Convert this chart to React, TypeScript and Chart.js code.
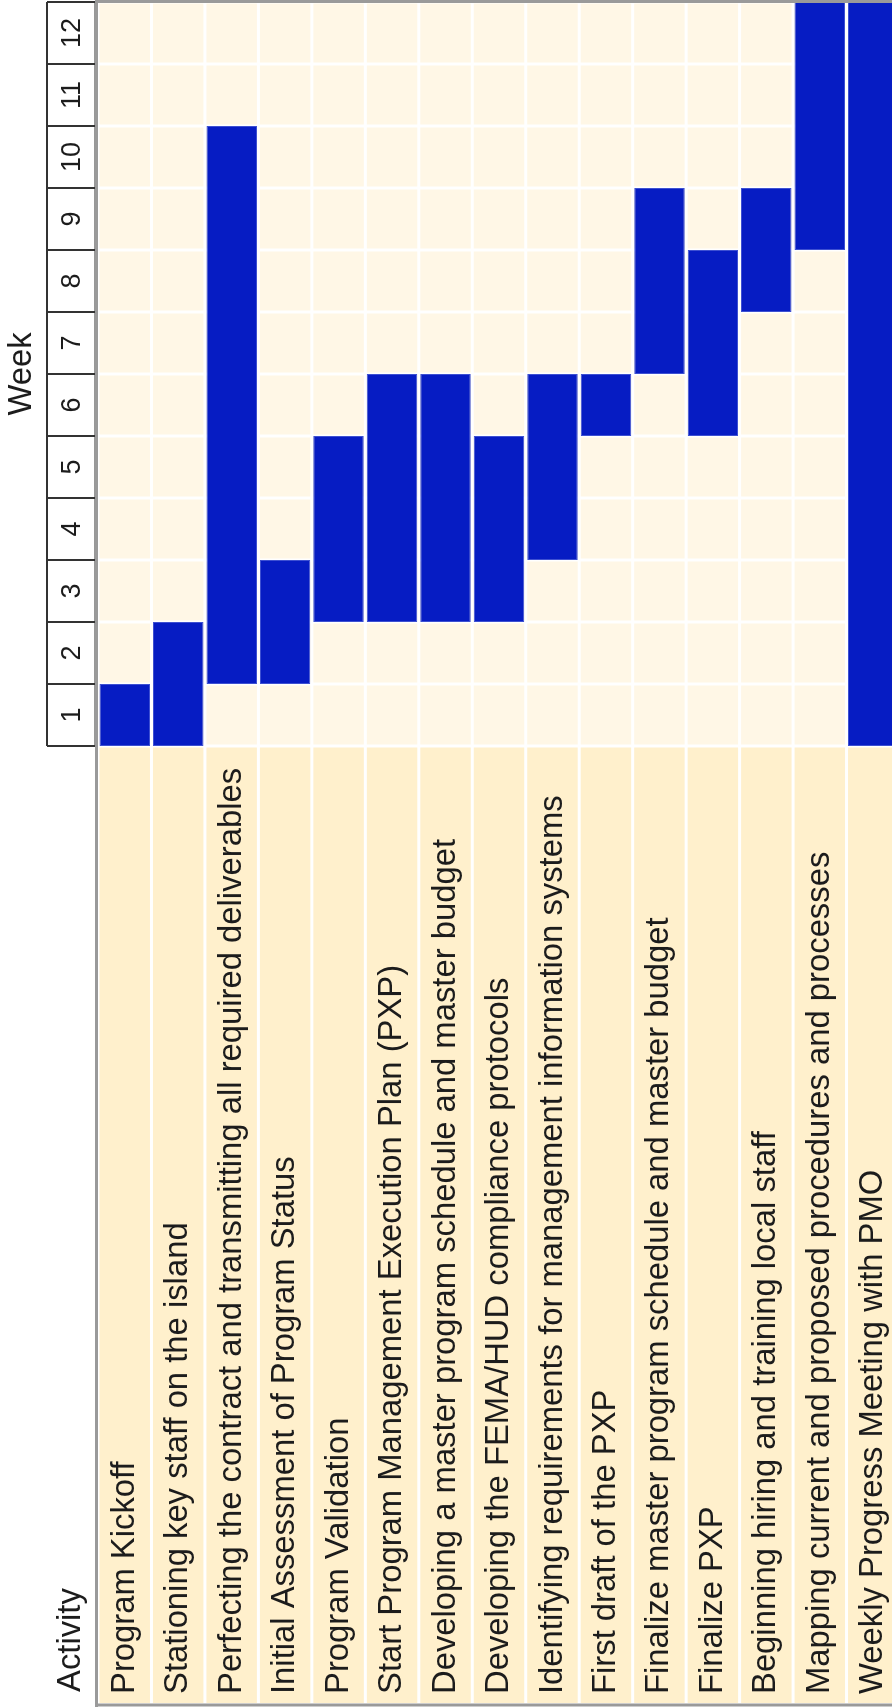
import React, { useEffect, useRef } from "react";
import { Chart, registerables } from "chart.js";

Chart.register(...registerables);

// ---------- data ----------
const activities: string[] = [
  "Program Kickoff",
  "Stationing key staff on the island",
  "Perfecting the contract and transmitting all required deliverables",
  "Initial Assessment of Program Status",
  "Program Validation",
  "Start Program Management Execution Plan (PXP)",
  "Developing a master program schedule and master budget",
  "Developing the FEMA/HUD compliance protocols",
  "Identifying requirements for management information systems",
  "First draft of the PXP",
  "Finalize master program schedule and master budget",
  "Finalize PXP",
  "Beginning hiring and training local staff",
  "Mapping current and proposed procedures and processes",
  "Weekly Progress Meeting with PMO",
];
const startWeeks: number[] = [0, 0, 1, 1, 2, 2, 2, 2, 3, 5, 6, 5, 7, 8, 0];
const endWeeks: number[] = [1, 2, 10, 3, 5, 6, 6, 5, 6, 6, 9, 8, 9, 12, 12];
const weekLabels: string[] = ["1", "2", "3", "4", "5", "6", "7", "8", "9", "10", "11", "12"];
const weekTitle = "Week";
const activityTitle = "Activity";

// ---------- look ----------
const W = 1707;
const H = 900;
const FONT = "'Liberation Sans', Arial, Helvetica, sans-serif";
const TEXT = "#1c1c1c";
const BAR = "#061cc3";
const BAR_EDGE = "#3d50d2";
const CELL = "#fff7e6";
const LABEL_CELL = "#fff0cc";
const FRAME = "#9a9a9a";
const GAP = 3;
const LABEL_SIZE = 32.8;

const zeroPadding = (s: any) => {
  s.paddingTop = 0;
  s.paddingBottom = 0;
  s.paddingLeft = 0;
  s.paddingRight = 0;
};

const backgroundPlugin = {
  id: "ganttBackground",
  beforeDraw(chart: any) {
    const { ctx, chartArea } = chart;
    const xs = chart.scales.x;
    const ys = chart.scales.y;
    ctx.save();
    ctx.fillStyle = "#ffffff";
    ctx.fillRect(0, 0, chart.width, chart.height);

    const n = activities.length;
    const rowH = (chartArea.bottom - chartArea.top) / n;
    for (let i = 0; i < n; i++) {
      const cy = ys.getPixelForValue(i);
      const top = cy - rowH / 2 + GAP / 2;
      const h = rowH - GAP;
      // label cell
      ctx.fillStyle = LABEL_CELL;
      ctx.fillRect(4, top, chartArea.left - GAP / 2 - 4, h);
      // week cells
      ctx.fillStyle = CELL;
      for (let k = 0; k < weekLabels.length; k++) {
        const x0 = xs.getPixelForValue(k);
        const x1 = xs.getPixelForValue(k + 1);
        ctx.fillRect(x0 + GAP / 2, top, x1 - x0 - GAP, h);
      }
    }

    // week tick box
    const bx0 = xs.getPixelForValue(0);
    const bx1 = xs.getPixelForValue(weekLabels.length);
    const by0 = 47;
    const by1 = 95.5;
    ctx.fillStyle = "#ffffff";
    ctx.fillRect(bx0, by0, bx1 - bx0, by1 - by0);
    ctx.strokeStyle = "#333333";
    ctx.lineWidth = 2;
    ctx.beginPath();
    ctx.moveTo(bx0, by0);
    ctx.lineTo(bx1, by0);
    ctx.moveTo(bx0, by1);
    ctx.lineTo(bx1, by1);
    for (let k = 0; k <= weekLabels.length; k++) {
      const x = Math.round(xs.getPixelForValue(k));
      ctx.moveTo(x, by0);
      ctx.lineTo(x, by1);
    }
    ctx.stroke();

    // Activity header
    ctx.fillStyle = TEXT;
    ctx.font = `${LABEL_SIZE}px ${FONT}`;
    ctx.textAlign = "left";
    ctx.textBaseline = "middle";
    ctx.fillText(activityTitle, 15, 71);
    ctx.restore();
  },
  afterDraw(chart: any) {
    const { ctx, chartArea } = chart;
    ctx.save();
    ctx.strokeStyle = FRAME;
    ctx.lineWidth = 3;
    ctx.beginPath();
    ctx.moveTo(2, chartArea.top - 1);
    ctx.lineTo(2, chart.height);
    ctx.moveTo(0, chartArea.top - 1.5);
    ctx.lineTo(chart.width, chartArea.top - 1.5);
    ctx.moveTo(chart.width - 1.5, chartArea.top - 1);
    ctx.lineTo(chart.width - 1.5, chart.height);
    ctx.stroke();
    ctx.restore();
  },
};

export default function App() {
  const ref = useRef<HTMLCanvasElement | null>(null);

  useEffect(() => {
    const canvas = ref.current;
    if (!canvas) return;
    Chart.defaults.font.family = FONT;
    const chart = new Chart(canvas, {
      type: "bar",
      data: {
        labels: activities,
        datasets: [
          {
            data: activities.map((_, i) => [startWeeks[i], endWeeks[i]]) as any,
            backgroundColor: BAR,
            borderColor: BAR_EDGE,
            borderWidth: 1,
            borderSkipped: false,
            barPercentage: 1,
            categoryPercentage: 0.944,
          },
        ],
      },
      options: {
        indexAxis: "y",
        animation: false,
        responsive: false,
        maintainAspectRatio: false,
        devicePixelRatio: 1,
        layout: { autoPadding: false, padding: { left: 13, right: 2, top: 0, bottom: 0 } },
        plugins: {
          legend: { display: false },
          tooltip: { enabled: false },
          title: { display: false },
        },
        scales: {
          x: {
            type: "linear",
            min: 0,
            max: 12,
            display: false,
            afterFit: zeroPadding,
          },
          x2: {
            type: "category",
            labels: weekLabels,
            position: "top",
            offset: true,
            grid: { display: false, drawTicks: false },
            border: { display: false },
            ticks: {
              autoSkip: false,
              maxRotation: 0,
              minRotation: 0,
              padding: 9,
              color: TEXT,
              font: { size: 27, family: FONT },
            },
            title: {
              display: true,
              text: weekTitle,
              color: TEXT,
              font: { size: LABEL_SIZE, family: FONT },
              padding: { top: 2, bottom: 0 },
            },
            afterFit: (s: any) => {
              s.height = 98;
              zeroPadding(s);
            },
          },
          y: {
            type: "category",
            position: "left",
            offset: true,
            grid: { display: false, drawTicks: false },
            border: { display: false },
            ticks: {
              autoSkip: false,
              crossAlign: "far",
              padding: 0,
              color: TEXT,
              font: { size: LABEL_SIZE, family: FONT },
            },
            afterFit: (s: any) => {
              s.width = 948;
              zeroPadding(s);
            },
          },
        },
      } as any,
      plugins: [backgroundPlugin],
    });
    return () => chart.destroy();
  }, []);

  return (
    <div
      style={{
        position: "fixed",
        left: 0,
        top: 0,
        width: W,
        height: H,
        transformOrigin: "0 0",
        transform: `translateY(${W}px) rotate(-90deg)`,
        background: "#ffffff",
      }}
    >
      <canvas ref={ref} width={W} height={H} style={{ display: "block", width: W, height: H }} />
    </div>
  );
}
